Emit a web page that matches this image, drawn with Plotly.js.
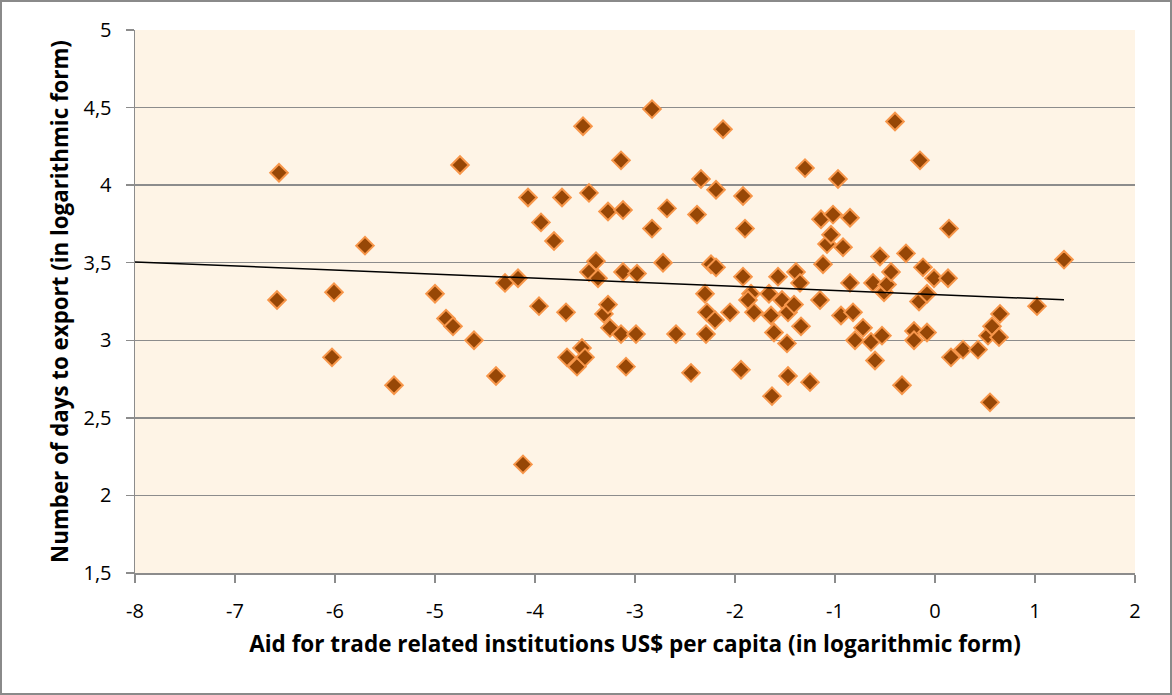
<!DOCTYPE html>
<html>
<head>
<meta charset="utf-8">
<script src="https://cdn.plot.ly/plotly-3.0.1.min.js"></script>
<style>
  html, body { margin: 0; padding: 0; background: #fff; }
  #wrap { position: relative; width: 1172px; height: 695px; }
  #chart { position: absolute; left: 0; top: 0; width: 1172px; height: 695px; }
  #frame { position: absolute; left: 0; top: 0; width: 1172px; height: 695px; box-sizing: border-box; border: 2px solid #8a8a8a; pointer-events: none; }
</style>
</head>
<body>
<div id="wrap"><div id="chart"></div><div id="frame"></div></div>
<script>
// Aid for trade related institutions US$ per capita (log)
const aidLog = [
  -6.56, -6.58, -6.01, -6.03, -5.70, -5.41, -5.00, -4.89, -4.82, -4.75,
  -4.61, -4.39, -4.30, -4.17, -4.12, -4.07, -3.96, -3.94, -3.81, -3.73,
  -3.69, -3.68, -3.58, -3.53, -3.50, -3.52, -3.46, -3.46, -3.39, -3.37,
  -3.31, -3.27, -3.27, -3.25, -3.14, -3.14, -3.12, -3.12, -3.09, -2.99,
  -2.98, -2.83, -2.83, -2.72, -2.68, -2.59, -2.44, -2.38, -2.34, -2.30,
  -2.29, -2.28, -2.24, -2.20, -2.19, -2.19, -2.12, -2.05, -1.94, -1.92,
  -1.92, -1.90, -1.84, -1.87, -1.81, -1.66, -1.64, -1.63, -1.61, -1.57,
  -1.53, -1.47, -1.48, -1.47, -1.41, -1.39, -1.35, -1.34, -1.30, -1.25,
  -1.15, -1.14, -1.12, -1.08, -1.04, -1.02, -0.97, -0.94, -0.92, -0.85,
  -0.85, -0.82, -0.80, -0.72, -0.64, -0.62, -0.60, -0.55, -0.53, -0.51,
  -0.48, -0.44, -0.40, -0.33, -0.29, -0.21, -0.21, -0.16, -0.15, -0.12,
  -0.08, -0.08, -0.01, 0.13, 0.14, 0.16, 0.28, 0.43, 0.53, 0.55,
  0.57, 0.64, 0.65, 1.02, 1.29
];
// Number of days to export (log)
const daysLog = [
  4.08, 3.26, 3.31, 2.89, 3.61, 2.71, 3.30, 3.14, 3.09, 4.13,
  3.00, 2.77, 3.37, 3.40, 2.20, 3.92, 3.22, 3.76, 3.64, 3.92,
  3.18, 2.89, 2.83, 2.95, 2.89, 4.38, 3.95, 3.44, 3.51, 3.40,
  3.17, 3.23, 3.83, 3.08, 3.04, 4.16, 3.84, 3.44, 2.83, 3.04,
  3.43, 4.49, 3.72, 3.50, 3.85, 3.04, 2.79, 3.81, 4.04, 3.30,
  3.04, 3.18, 3.49, 3.13, 3.47, 3.97, 4.36, 3.18, 2.81, 3.93,
  3.41, 3.72, 3.30, 3.26, 3.18, 3.30, 3.16, 2.64, 3.05, 3.41,
  3.26, 3.18, 2.98, 2.77, 3.23, 3.44, 3.37, 3.09, 4.11, 2.73,
  3.26, 3.78, 3.49, 3.62, 3.68, 3.81, 4.04, 3.16, 3.60, 3.79,
  3.37, 3.18, 3.00, 3.08, 2.99, 3.37, 2.87, 3.54, 3.03, 3.31,
  3.36, 3.44, 4.41, 2.71, 3.56, 3.06, 3.00, 3.25, 4.16, 3.47,
  3.30, 3.05, 3.40, 3.40, 3.72, 2.89, 2.94, 2.94, 3.03, 2.60,
  3.09, 3.02, 3.17, 3.22, 3.52
];
const xTickVals = [-8, -7, -6, -5, -4, -3, -2, -1, 0, 1, 2];
const xTickText = ['-8', '-7', '-6', '-5', '-4', '-3', '-2', '-1', '0', '1', '2'];
const yTickVals = [1.5, 2, 2.5, 3, 3.5, 4, 4.5, 5];
const yTickText = ['1,5', '2', '2,5', '3', '3,5', '4', '4,5', '5'];
// linear trendline (y = intercept + slope * x)
const trendIntercept = 3.295;
const trendSlope = -0.0263;
const trendStart = -8;

const trendEnd = Math.max(...aidLog);
const trendX = [trendStart, trendEnd];
const trendY = trendX.map(v => trendIntercept + trendSlope * v);

const font = '"Open Sans", "Noto Sans", sans-serif';
const gridCol = '#8c8c8c';

Plotly.newPlot('chart', [
  {
    type: 'scatter', mode: 'markers', x: aidLog, y: daysLog,
    marker: { symbol: 'diamond', size: 13.5, color: '#974706', line: { color: '#f7964a', width: 2 } },
    hoverinfo: 'x+y', showlegend: false
  },
  {
    type: 'scatter', mode: 'lines', x: trendX, y: trendY,
    line: { color: '#000000', width: 1.5 }, hoverinfo: 'skip', showlegend: false
  }
], {
  width: 1172, height: 695,
  margin: { l: 135, r: 37, t: 30, b: 122 },
  paper_bgcolor: '#ffffff', plot_bgcolor: '#fef4e6',
  font: { family: font, size: 20, color: '#000' },
  xaxis: {
    range: [-8, 2], tickvals: xTickVals, ticktext: xTickText, ticks: 'outside', ticklen: 8, tickwidth: 1.5, tickcolor: gridCol,
    showline: true, linecolor: gridCol, linewidth: 1.5, showgrid: false, zeroline: false,
    ticklabelstandoff: 11, tickfont: { size: 20 },
    title: { text: 'Aid for trade related institutions US$ per capita (in logarithmic form)', font: { size: 22.5, weight: 'bold' }, standoff: 13 },
    automargin: true
  },
  yaxis: {
    range: [1.5, 5], tickvals: yTickVals, ticktext: yTickText, ticks: 'outside', ticklen: 8, tickwidth: 1.5, tickcolor: gridCol,
    showline: true, linecolor: gridCol, linewidth: 1.5, showgrid: true, gridcolor: gridCol, gridwidth: 1.5, zeroline: false,
    ticklabelstandoff: 10, tickfont: { size: 20 },
    title: { text: 'Number of days to export (in logarithmic form)', font: { size: 22.3, weight: 'bold' }, standoff: 8 },
    automargin: true
  }
}, { displayModeBar: false, staticPlot: true });
</script>
</body>
</html>
